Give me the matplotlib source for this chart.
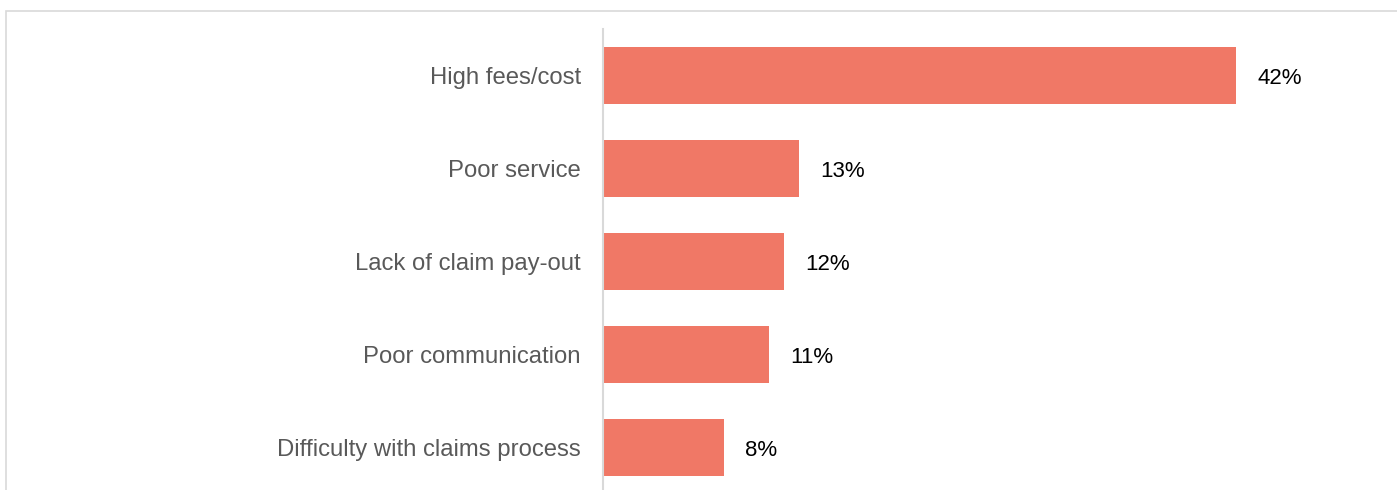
import matplotlib.pyplot as plt
from matplotlib.patches import Rectangle

categories = [
    "High fees/cost",
    "Poor service",
    "Lack of claim pay-out",
    "Poor communication",
    "Difficulty with claims process",
]
values = [42, 13, 12, 11, 8]
value_labels = ["42%", "13%", "12%", "11%", "8%"]

bar_color = "#F07866"
label_color = "#595959"

plt.rcParams["font.family"] = ["Liberation Sans", "DejaVu Sans"]

W, H = 1397, 490
fig = plt.figure(figsize=(W / 100, H / 100), dpi=100)

# outer light frame (only top and left edges are visible)
fig.patches.append(Rectangle((6 / W, -0.1), 1.2, 1 - 11.5 / H + 0.1,
                             transform=fig.transFigure, fill=False,
                             edgecolor="#D9D9D9", linewidth=1.2))

ax_left, ax_top, ax_bottom = 603 / W, 1 - 29 / H, 1 - 494 / H
ax = fig.add_axes([ax_left, ax_bottom, 1 - ax_left, ax_top - ax_bottom])

y = list(range(len(categories)))
ax.barh(y, values, height=0.615, color=bar_color)
ax.set_ylim(len(categories) - 0.5, -0.5)
# scale so bars land close to the reference pixel ends
ax.set_xlim(0, 42 * (W - 603) / (1236 - 603))

for yi, v, lab in zip(y, values, value_labels):
    ax.annotate(lab, (v, yi), xytext=(21, -3), textcoords="offset pixels",
                va="center", ha="left", fontsize=16, color="black")

ax.set_yticks(y)
ax.set_yticklabels(categories, fontsize=17.2, color=label_color)
ax.tick_params(axis="y", length=0, pad=16)
ax.set_xticks([])

for side in ["top", "right", "bottom"]:
    ax.spines[side].set_visible(False)
ax.spines["left"].set_color("#D9D9D9")
ax.spines["left"].set_linewidth(1.5)

fig.savefig("out.png", dpi=100)
